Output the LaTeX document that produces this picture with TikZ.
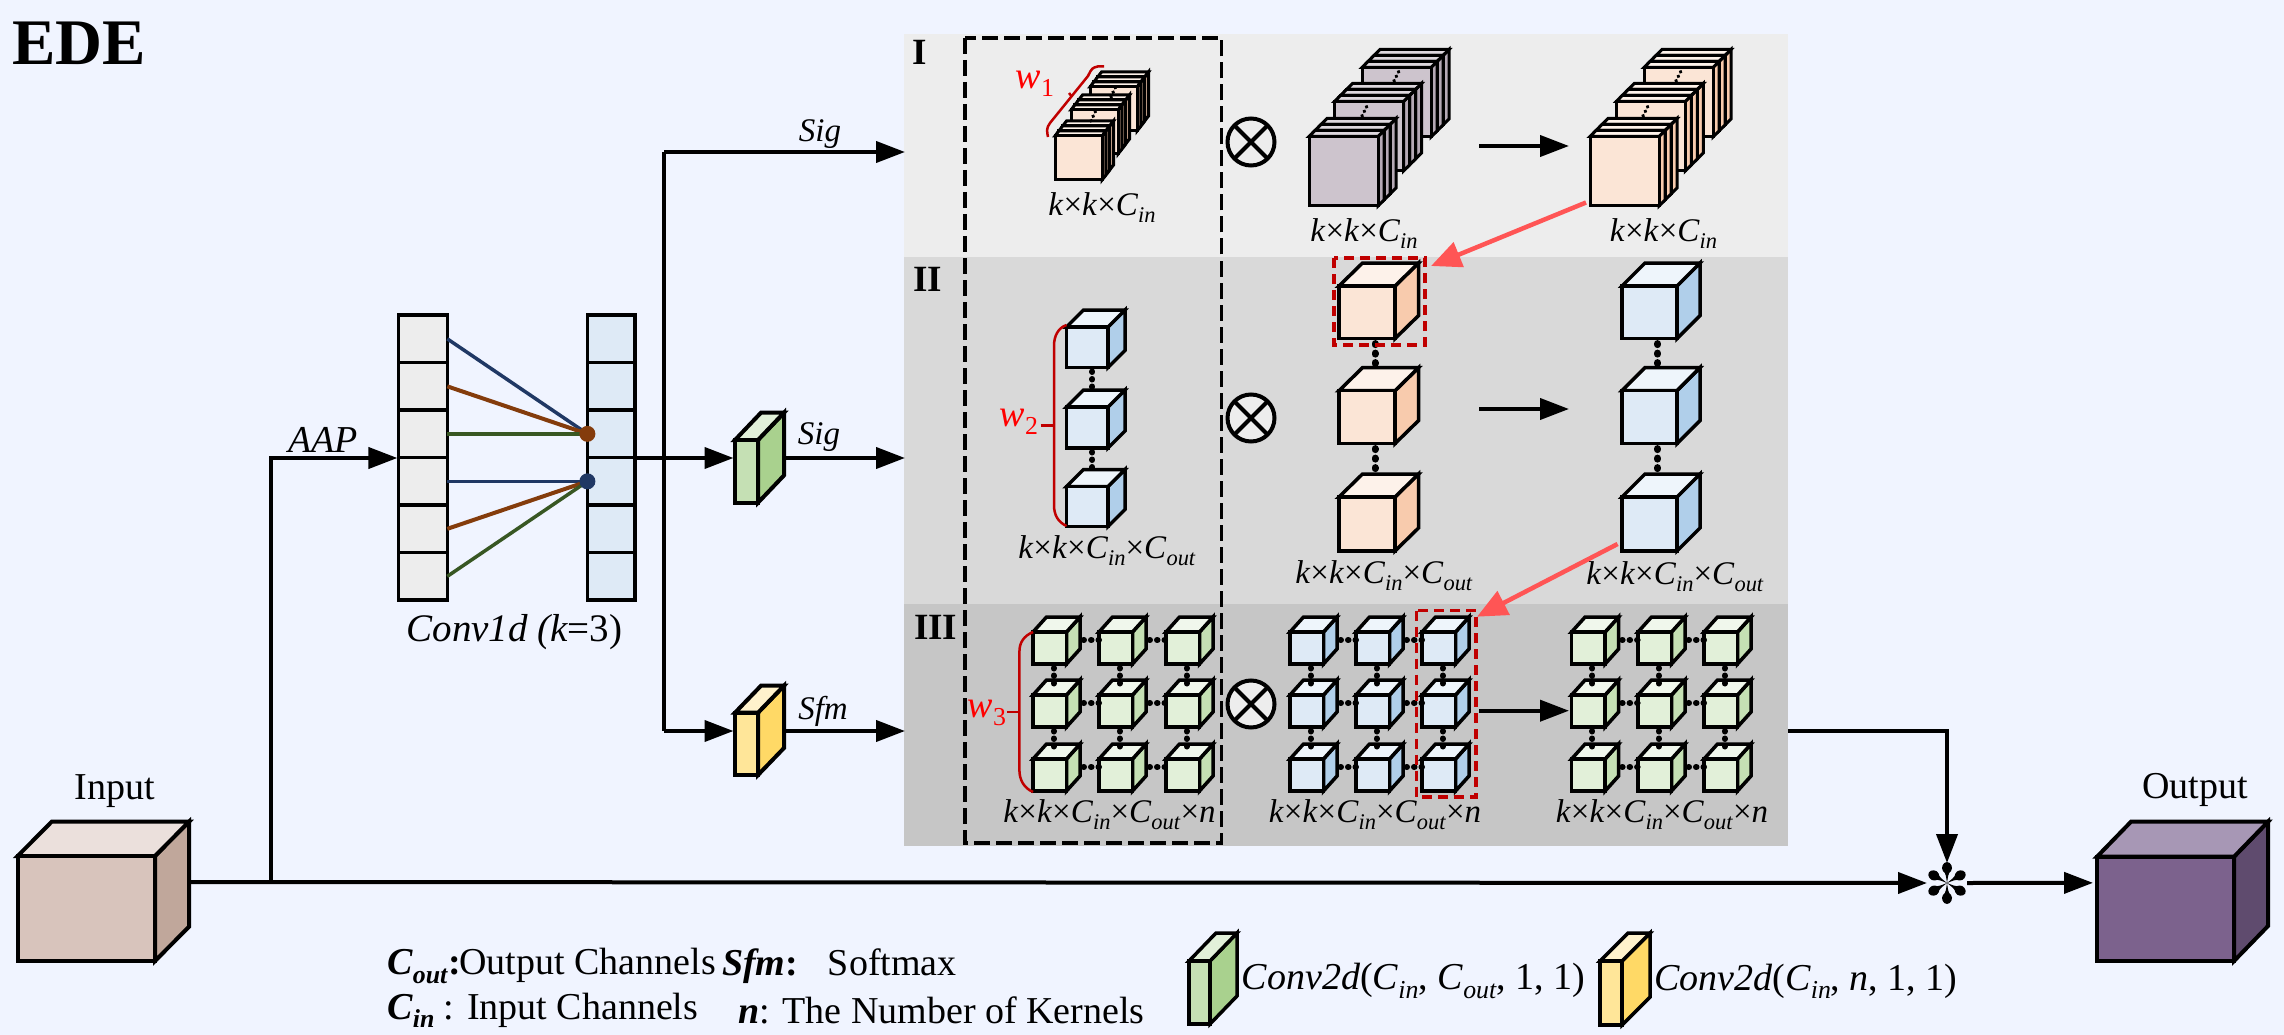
\documentclass[tikz,border=0pt]{standalone}
\usepackage{fontspec}
\usepackage{graphicx}
\setmainfont{Liberation Serif}
\usetikzlibrary{arrows.meta,calc}
\definecolor{bgc}{HTML}{F0F4FF}
\definecolor{panA}{HTML}{EDEDED}
\definecolor{panB}{HTML}{D9D9D9}
\definecolor{panC}{HTML}{C6C6C6}
\definecolor{redk}{HTML}{C00000}
\definecolor{reda}{HTML}{FF5555}
\definecolor{navy}{HTML}{203864}
\definecolor{brwn}{HTML}{843C0C}
\definecolor{grn}{HTML}{385723}
\definecolor{inpF}{HTML}{D8C4BC}\definecolor{inpT}{HTML}{EBE0DC}\definecolor{inpS}{HTML}{C0A79B}
\definecolor{outF}{HTML}{7C628D}\definecolor{outT}{HTML}{A797B5}\definecolor{outS}{HTML}{5F4B6E}
\definecolor{peaF}{HTML}{FBE5D6}\definecolor{peaT}{HTML}{FDF2EA}\definecolor{peaS}{HTML}{F8CBAD}
\definecolor{bluF}{HTML}{DEEAF6}\definecolor{bluT}{HTML}{EEF5FB}\definecolor{bluS}{HTML}{B0CFEA}
\definecolor{lgnF}{HTML}{E2F0D9}\definecolor{lgnT}{HTML}{F0F7EC}\definecolor{lgnS}{HTML}{C5E0B4}
\definecolor{mauF}{HTML}{CDC4CD}\definecolor{mauT}{HTML}{DDD7DD}\definecolor{mauS}{HTML}{B5A9B5}
\definecolor{gbkF}{HTML}{C5E0B4}\definecolor{gbkT}{HTML}{E2F0D9}\definecolor{gbkS}{HTML}{A9D18E}
\definecolor{ybkF}{HTML}{FFE699}\definecolor{ybkT}{HTML}{FFF2CC}\definecolor{ybkS}{HTML}{FFD966}
% name, x, y, w, h, dx, dy, palette
\newcommand{\solid}[8]{%
  \filldraw[fill=#8S] (#2+#4,#3) -- (#2+#4+#6,#3-#7) -- (#2+#4+#6,#3+#5-#7) -- (#2+#4,#3+#5) -- cycle;
  \filldraw[fill=#8T] (#2,#3) -- (#2+#6,#3-#7) -- (#2+#4+#6,#3-#7) -- (#2+#4,#3) -- cycle;
  \node[draw,fill=#8F,inner sep=0pt,outer sep=0pt,minimum width=#4pt,minimum height=#5pt] (#1) at ({#2+#4/2},{#3+#5/2}) {};
}
% name, x, y, w, h, dx, dy, palette : three plates
\newcommand{\plates}[8]{%
  \foreach \i in {2,1,0}{%
    \pgfmathsetmacro{\px}{#2+\i*#6/3}%
    \pgfmathsetmacro{\py}{#3-\i*#7/3}%
    \pgfmathsetmacro{\qx}{#6/3}%
    \pgfmathsetmacro{\qy}{#7/3}%
    \solid{#1\i}{\px}{\py}{#4}{#5}{\qx}{\qy}{#8}%
  }%
}
% prefix, x1, x2, x3, palette
\newcommand{\cubegrid}[5]{%
  \foreach \cx/\c in {#2/1,#3/2,#4/3}{\foreach \ry/\r in {632/1,695/2,759/3}{%
    \solid{#1\c\r}{\cx}{\ry}{33.5}{32}{13.5}{15}{#5}}}%
  \foreach \c in {1,2,3}{\foreach \r/\n in {1/2,2/3}{%
    \draw[griddots] ([xshift=4pt,yshift=-4pt]#1\c\r.south) -- ([xshift=4pt,yshift=11pt]#1\c\n.north);}}%
  \foreach \r in {1,2,3}{\foreach \c/\n in {1/2,2/3}{%
    \draw[griddots] ([xshift=17pt,yshift=8pt]#1\c\r.east) -- ([yshift=8pt]#1\n\r.west);}}%
}
\newcommand{\lo}[1]{\raisebox{-.22em}{\scalebox{.68}{#1}}}
\newcommand{\tm}{{\upshape×}}
\newcommand{\Cin}{\textit{C}\lo{\textit{in}}}
\newcommand{\Cout}{\textit{C}\lo{\textit{out}}}
\newcommand{\kkin}{\textit{k}\tm\textit{k}\tm\Cin}
\newcommand{\kkio}{\kkin\tm\Cout}
\newcommand{\kkion}{\kkio\tm\textit{n}}
\tikzset{
  x=1pt,y=-1pt,
  edge/.style={line width=3.5pt,line join=miter},
  arr/.style={line width=4pt,-{Triangle[length=29pt,width=21pt]}},
  plain/.style={line width=4pt},
  redarr/.style={line width=4.5pt,color=reda,-{Triangle[length=30pt,width=26pt]}},
  dots/.style={line width=7pt,line cap=round,dash pattern=on 1pt off 8.5pt},
  griddots/.style={line width=6pt,line cap=round,dash pattern=on 0.5pt off 7pt},
  tinydots/.style={line width=3.5pt,line cap=round,dash pattern=on 0.5pt off 4.5pt},
  lab/.style={font=\fontsize{33}{36}\selectfont,inner sep=0pt},
  big/.style={font=\fontsize{38}{40}\selectfont,inner sep=0pt},
  numer/.style={font=\fontsize{37}{38}\selectfont\bfseries,inner sep=0pt},
  brace/.style={line width=2.5pt,color=redk},
  wlab/.style={font=\fontsize{38}{40}\selectfont,inner sep=0pt,text=red},
  times/.style={circle,draw,fill=panA,line width=4pt,minimum size=47pt,inner sep=0pt,outer sep=0pt},
  cell/.style={line width=3.5pt},
  wire/.style={line width=3.5pt},
  reddash/.style={line width=3.5pt,color=redk,dash pattern=on 10pt off 6pt},
}
\begin{document}
\begin{tikzpicture}
\useasboundingbox (0,0) rectangle (2284,1035);
\fill[bgc] (0,0) rectangle (2284,1035);
% panels
\fill[panA] (904,34) rectangle (1788,257);
\fill[panB] (904,257) rectangle (1788,604);
\fill[panC] (904,604) rectangle (1788,846);
\draw[line width=3.5pt,dash pattern=on 16pt off 6pt] (965,38) rectangle (1221.5,843);
\node[numer] (nI) at (920,52) {I};
\node[numer] (nII) at (927.5,279) {II};
\node[numer] (nIII) at (935.6,627) {III};
\node[font=\fontsize{65}{66}\selectfont\bfseries,inner sep=0pt] (title) at (79,43) {EDE};

% input and output
\begin{scope}[edge,line width=4pt]
\solid{inp}{17.7}{856}{137.3}{105}{34}{34.3}{inp}
\solid{outp}{2097}{856.7}{137}{104.3}{34}{35}{out}
\end{scope}
\node[big] (inplab) at (115,791) {Input};
\node[big] (outplab) at (2195,790) {Output};

% conv1d
\foreach \ya/\yb/\k in {315/362.7/1,362.7/410/2,410/457.7/3,457.7/505/4,505/552.7/5,552.7/600/6}{
  \node[draw,cell,fill=panA,minimum width=48.6pt,minimum height={(\yb-\ya)*1pt},inner sep=0pt,outer sep=0pt] (la\k) at (423,{(\ya+\yb)/2}) {};
  \node[draw,cell,fill=bluF,minimum width=47.6pt,minimum height={(\yb-\ya)*1pt},inner sep=0pt,outer sep=0pt] (ra\k) at (611.2,{(\ya+\yb)/2}) {};
}
\coordinate (hubA) at (ra3.west);
\coordinate (hubB) at (ra4.west);
\draw[wire,navy] (la1.east) -- (hubA);
\draw[wire,brwn,line width=4pt] (la2.east) -- (hubA);
\draw[wire,grn,line width=4.5pt] (la3.east) -- (hubA);
\draw[wire,navy] (la4.east) -- (hubB);
\draw[wire,brwn,line width=4pt] (la5.east) -- (hubB);
\draw[wire,grn] (la6.east) -- (hubB);
\fill[brwn] (hubA) circle (8pt);
\fill[navy] (hubB) circle (8pt);
\node[font=\fontsize{39}{42}\selectfont\itshape,inner sep=0pt] (convlab) at (514.5,632) {Conv1d ({k}{\upshape=}{\upshape 3}{\upshape )}};

% green and yellow blocks
\begin{scope}[edge,line width=4pt]
\solid{gblk}{735}{440}{23}{62.7}{26}{27.3}{gbk}
\solid{yblk}{735}{712.7}{23}{62.3}{26}{27}{ybk}
\end{scope}

% connectors
\coordinate (inOut) at (191,882);
\coordinate (fork) at (271,882);
\coordinate (aapCorner) at (271,458);
\coordinate (laIn) at (397.4,458);
\coordinate (raOut) at (635,458);
\coordinate (branchTop) at (664,152);
\coordinate (branchBot) at (664,731);
\coordinate (panelTop) at (905,152);
\coordinate (panelMid) at (905,458);
\coordinate (panelBot) at (905,731);
\coordinate (gblkIn) at (733.5,458);
\coordinate (gblkOut) at (785,458);
\coordinate (yblkIn) at (733.5,731);
\coordinate (yblkOut) at (785,731);
\coordinate (panelOut) at (1788,731);
\coordinate (turn) at (1947,731);
\node[inner sep=0pt,outer sep=0pt,circle,minimum size=40pt] (star) at (1947,883) {};
\foreach \a in {90,30,-30,-90,-150,150}{
  \begin{scope}[shift={(star)},rotate=\a]
  \fill (0,0) .. controls (6,-1) and (10,-1) .. (12,-4)
    .. controls (15,-6.5) and (21,-4) .. (21,0)
    .. controls (21,4) and (15,6.5) .. (12,4)
    .. controls (10,1) and (6,1) .. (0,0);
  \end{scope}
}
\draw[arr] (inOut) -- (star.west);
\draw[arr] (fork) -- (aapCorner) -- (laIn);
\draw[arr] (raOut) -- (gblkIn);
\draw[arr] (branchTop) -- (panelTop);
\draw[plain] (branchTop) -- (branchBot);
\draw[arr] (branchBot) -- (yblkIn);
\draw[arr] (gblkOut) -- (panelMid);
\draw[arr] (yblkOut) -- (panelBot);
\draw[arr] (panelOut) -- (turn) -- (star.north);
\draw[arr] (star.east) -- ($(outp.west)+(-4,-26)$);
\node[big,font=\fontsize{38}{40}\selectfont\itshape] (aap) at (323,440) {AAP};
\node[lab,font=\fontsize{33}{36}\selectfont\itshape] (sig1) at (820,134) {Sig};
\node[lab,font=\fontsize{33}{36}\selectfont\itshape] (sig2) at (819,437) {Sig};
\node[lab,font=\fontsize{33}{36}\selectfont\itshape] (sfm) at (823,711) {Sfm};

% panel I stacks
\begin{scope}[edge,line width=3pt]
\plates{sa3}{1090}{87}{47}{44}{11.5}{15}{pea}
\plates{sa2}{1071}{110}{47}{44}{11.5}{15}{pea}
\plates{sa1}{1055}{136}{47}{44}{11.5}{15}{pea}
\plates{sb3}{1362}{67.5}{69}{69.5}{18}{18}{mau}
\plates{sb2}{1334.5}{101.4}{69}{69.5}{18}{18}{mau}
\plates{sb1}{1309}{136.5}{69}{69.5}{18}{18}{mau}
\plates{sc3}{1644}{67.5}{69}{69.5}{18}{18}{pea}
\plates{sc2}{1616.4}{101.4}{69}{69.5}{18}{18}{pea}
\plates{sc1}{1590}{136.5}{69}{69.5}{18}{18}{pea}
\end{scope}
\draw[tinydots] (1091,121) -- (1096,110);
\draw[tinydots] (1111,97) -- (1116,86);
\draw[tinydots] (1362,116) -- (1368,104);
\draw[tinydots] (1394,81) -- (1400,69);
\draw[tinydots] (1643,116) -- (1649,104);
\draw[tinydots] (1676,81) -- (1682,69);

% panel II cubes
\begin{scope}[edge]
\solid{ba}{1066.5}{327}{41.5}{40.5}{17}{17}{blu}
\solid{bb}{1066.5}{407}{41.5}{41}{17}{17}{blu}
\solid{bc}{1066.5}{486.5}{41.5}{40}{17}{17}{blu}
\solid{pa}{1339}{286}{56}{52.6}{23.5}{23}{pea}
\solid{pb}{1339}{390.7}{56}{52.9}{23.5}{23}{pea}
\solid{pc}{1339}{497}{56}{54}{23.5}{23}{pea}
\solid{qa}{1622}{286}{55}{52.6}{23}{23}{blu}
\solid{qb}{1622}{390.7}{55}{52.9}{23}{23}{blu}
\solid{qc}{1622}{497}{55}{54}{23}{23}{blu}
\draw[griddots] ([xshift=5pt,yshift=-4pt]ba.south) -- ([xshift=5pt,yshift=17pt]bb.north);
\draw[griddots] ([xshift=5pt,yshift=-4pt]bb.south) -- ([xshift=5pt,yshift=17pt]bc.north);
\draw[dots] ([xshift=8pt,yshift=-5pt]pa.south) -- ([xshift=8pt,yshift=24pt]pb.north);
\draw[dots] ([xshift=8pt,yshift=-5pt]pb.south) -- ([xshift=8pt,yshift=24pt]pc.north);
\draw[dots] ([xshift=8pt,yshift=-5pt]qa.south) -- ([xshift=8pt,yshift=24pt]qb.north);
\draw[dots] ([xshift=8pt,yshift=-5pt]qb.south) -- ([xshift=8pt,yshift=24pt]qc.north);
\end{scope}

% panel III grids
\begin{scope}[edge,line width=3.5pt]
\cubegrid{ga}{1033}{1099}{1166}{lgn}
\cubegrid{gb}{1290}{1356}{1422}{blu}
\cubegrid{gc}{1571.6}{1638}{1704}{lgn}
\end{scope}

% times symbols
\foreach \nm/\yy in {oa/142,ob/418,oc/704}{
  \node[times] (\nm) at (1251,\yy) {};
  \draw[line width=4pt] (\nm.45) -- (\nm.225);
  \draw[line width=4pt] (\nm.135) -- (\nm.315);
}

% internal arrows
\coordinate (m1a) at (1479,146); \coordinate (m1b) at (1569,146);
\coordinate (m2a) at (1479,409); \coordinate (m2b) at (1569,409);
\coordinate (m3a) at (1479,710.7); \coordinate (m3b) at (1569,710.7);
\draw[arr] (m1a) -- (m1b);
\draw[arr] (m2a) -- (m2b);
\draw[arr] (m3a) -- (m3b);

% red highlights
\draw[reddash] (1334,258) rectangle (1425,345);
\draw[reddash] (1416.7,610.7) rectangle (1476,797);
\coordinate (ra1s) at (1586,202.5); \coordinate (ra1e) at (1431,266);
\coordinate (ra2s) at (1617.6,544); \coordinate (ra2e) at (1477,616.7);
\draw[redarr] (ra1s) -- (ra1e);
\draw[redarr] (ra2s) -- (ra2e);

% red braces
\draw[brace] (1104,66.4) -- (1098,66.4) .. controls (1092,68) .. (1088,76) -- (1050,123) .. controls (1046,128) and (1047,132) .. (1048,137);
\draw[brace] (1069,93) -- (1072,97);
\draw[brace] (1066.5,325) .. controls (1058,328) and (1054,336) .. (1054,346) -- (1054,505) .. controls (1054,515) and (1058,522) .. (1066.5,526);
\draw[brace] (1040.6,425.7) -- (1054,425.7);
\draw[brace] (1033,632) .. controls (1024,636) and (1019.4,642) .. (1019.4,652) -- (1019.4,770) .. controls (1019.4,780) and (1024,788) .. (1033,792);
\draw[brace] (1007,712) -- (1019.4,712);
\node[wlab] (w1) at (1035,84) {\textit{w}\lo{1}};
\node[wlab] (w2) at (1019,422) {\textit{w}\lo{2}};
\node[wlab] (w3) at (987,713) {\textit{w}\lo{3}};

% panel labels
\node[lab] (t1) at (1102,207.5) {\kkin};
\node[lab] (t2) at (1364,233.6) {\kkin};
\node[lab] (t3) at (1663.5,233.6) {\kkin};
\node[lab] (t4) at (1107,551) {\kkio};
\node[lab] (t5) at (1384,576) {\kkio};
\node[lab] (t6) at (1675,577) {\kkio};
\node[lab] (t7) at (1109.5,815) {\kkion};
\node[lab] (t8) at (1375,815) {\kkion};
\node[lab] (t9) at (1662,815) {\kkion};

% legend
\node[big,anchor=west] (leg1) at (387,966) {\textbf{\textit{C}\lo{\textit{out}}:}\hspace{-.03em}Output Channels};
\node[big,anchor=west] (leg2) at (722,966) {\textbf{\textit{Sfm}:}\hspace{.45em} Softmax};
\node[big,anchor=west] (leg3) at (387,1010) {\textbf{\textit{C}\lo{\textit{in}}} : Input Channels};
\node[big,anchor=west] (leg4) at (738,1010) {\textbf{\textit{n}}: The Number of Kernels};
\begin{scope}[edge,line width=3.5pt]
\solid{lgb}{1189}{961}{21}{63}{27}{28}{gbk}
\solid{lyb}{1600}{961}{22}{64}{28}{28}{ybk}
\end{scope}
\node[big,anchor=west] (leg5) at (1241.6,981) {\textit{Conv2d}(\Cin, \Cout, 1, 1)};
\node[big,anchor=west] (leg6) at (1654,981) {\textit{Conv2d}(\Cin, \textit{n}, 1, 1)};
\end{tikzpicture}
\end{document}
